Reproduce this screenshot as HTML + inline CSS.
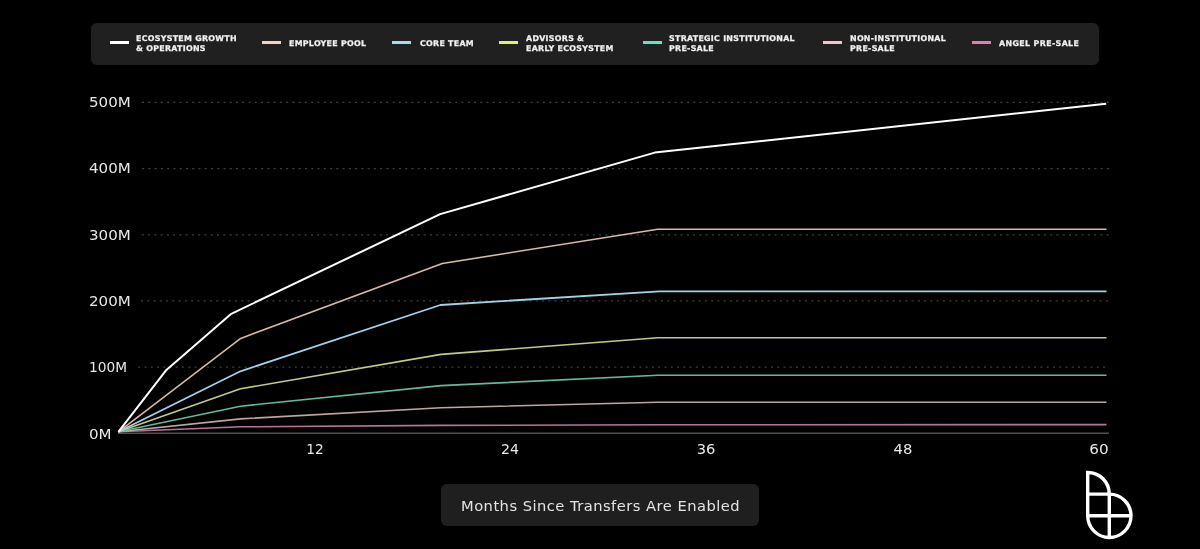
<!DOCTYPE html>
<html>
<head>
<meta charset="utf-8">
<style>
html,body{margin:0;padding:0;background:#000;}
body{width:1200px;height:549px;position:relative;overflow:hidden;font-family:"DejaVu Sans","Liberation Sans",sans-serif;-webkit-font-smoothing:antialiased;}
.legend{position:absolute;left:90.5px;top:22.7px;width:1008.1px;height:42.1px;background:#202020;border-radius:6px;}
.sw{position:absolute;top:41px;width:19px;height:3px;}
.lt{position:absolute;will-change:transform;color:#f2f2f2;-webkit-text-stroke:0.25px #f2f2f2;font-weight:700;font-size:7.9px;line-height:10px;letter-spacing:0.28px;white-space:nowrap;}
.yl{position:absolute;will-change:transform;transform:scaleX(1.1);transform-origin:0 0;left:89.3px;color:#e8e8e8;font-size:13.7px;line-height:16px;letter-spacing:0px;white-space:nowrap;}
.xl{position:absolute;will-change:transform;transform:scaleX(1.15);top:441px;color:#e8e8e8;font-size:13.7px;line-height:16px;letter-spacing:0px;white-space:nowrap;text-align:center;width:40px;}
.xbox{position:absolute;left:441.2px;top:484.2px;width:318.1px;height:41.7px;background:#1f1f1f;border-radius:6px;}
.xt{position:absolute;will-change:transform;left:461px;top:496.6px;color:#e4e4e4;font-size:14.7px;line-height:18px;letter-spacing:0.47px;white-space:nowrap;}
svg{position:absolute;left:0;top:0;}
</style>
</head>
<body>
<div class="legend"></div>
<div class="sw" style="left:109.5px;background:#ffffff"></div>
<div class="lt" style="left:136.4px;top:34.1px">ECOSYSTEM GROWTH<br>&amp; OPERATIONS</div>
<div class="sw" style="left:262px;background:#f3d3c3"></div>
<div class="lt" style="left:289.1px;top:39px">EMPLOYEE POOL</div>
<div class="sw" style="left:392px;background:#a3def0"></div>
<div class="lt" style="left:419.7px;top:39px">CORE TEAM</div>
<div class="sw" style="left:499px;background:#dff06a"></div>
<div class="lt" style="left:526.3px;top:34.1px">ADVISORS &amp;<br>EARLY ECOSYSTEM</div>
<div class="sw" style="left:643px;background:#5be3c8"></div>
<div class="lt" style="left:669.1px;top:34.1px">STRATEGIC INSTITUTIONAL<br>PRE-SALE</div>
<div class="sw" style="left:823.3px;background:#f2c4c4"></div>
<div class="lt" style="left:850.3px;top:34.1px">NON-INSTITUTIONAL<br>PRE-SALE</div>
<div class="sw" style="left:972px;background:#e07fb3"></div>
<div class="lt" style="left:999.3px;top:39px;letter-spacing:0.37px">ANGEL PRE-SALE</div>

<div class="yl" style="top:94.2px">500M</div>
<div class="yl" style="top:160.4px">400M</div>
<div class="yl" style="top:226.7px">300M</div>
<div class="yl" style="top:292.7px">200M</div>
<div class="yl" style="top:358.9px;transform:scaleX(0.99)">100M</div>
<div class="yl" style="top:425.9px">0M</div>

<svg width="1200" height="549" viewBox="0 0 1200 549">
<g stroke="#404040" stroke-width="1.3" stroke-dasharray="2 4.265" fill="none">
<line x1="142.00" y1="102.4" x2="1108.81" y2="102.4"/>
<line x1="142.10" y1="168.6" x2="1108.91" y2="168.6"/>
<line x1="141.80" y1="234.9" x2="1108.61" y2="234.9"/>
<line x1="141.00" y1="300.9" x2="1107.81" y2="300.9"/>
<line x1="138.20" y1="367.1" x2="1105.01" y2="367.1"/>
</g>
<line x1="118" y1="433.3" x2="1109" y2="433.3" stroke="#505050" stroke-width="1.6"/>
<g fill="none" stroke-linejoin="round" stroke-linecap="butt">
<polyline stroke="#b87498" stroke-width="1.6" points="118.4,431.8 241,426.8 441,425.4 658,424.7 1106.5,424.6"/>
<polyline stroke="#bea6a4" stroke-width="1.6" points="118.4,431.8 240.5,418.9 441,407.7 658,402.2 1106.5,402.2"/>
<polyline stroke="#66b89a" stroke-width="1.6" points="118.4,431.8 240.5,406.2 441,385.6 658,375.3 1106.5,375.3"/>
<polyline stroke="#c2ca88" stroke-width="1.6" points="118.4,431.8 240.5,388.8 441,354.4 658,337.8 1106.5,337.8"/>
<polyline stroke="#a0d2ea" stroke-width="1.8" points="118.4,431.8 240.4,371.3 440.4,305 659.5,291.3 1106.5,291.3"/>
<polyline stroke="#d8b8ac" stroke-width="1.6" points="118.4,431.8 240.7,338.4 442.3,263.5 657.6,229.3 1106.5,229.3"/>
<polyline stroke="#ffffff" stroke-width="2" points="118.4,431.8 166.4,369.9 231.3,313.8 440.2,214.1 654.8,152.6 1106.2,103.8"/>
</g>
<g fill="none" stroke="#fff" stroke-width="3.4">
<path d="M1087.7 515.8 V472.5 A21.6 21.6 0 0 1 1109.3 494.1 V537.4 M1087.7 494.1 H1109.3 A21.7 21.7 0 0 1 1131 515.8 A21.65 21.65 0 0 1 1087.7 515.8 H1131"/>
</g>
</svg>

<div class="xl" style="left:295.3px;transform:scaleX(1.0)">12</div>
<div class="xl" style="left:489.7px;transform:scaleX(1.03)">24</div>
<div class="xl" style="left:686.1px;transform:scaleX(1.07)">36</div>
<div class="xl" style="left:882.7px;transform:scaleX(1.08)">48</div>
<div class="xl" style="left:1079.4px;transform:scaleX(1.11)">60</div>

<div class="xbox"></div>
<div class="xt">Months Since Transfers Are Enabled</div>
</body>
</html>
